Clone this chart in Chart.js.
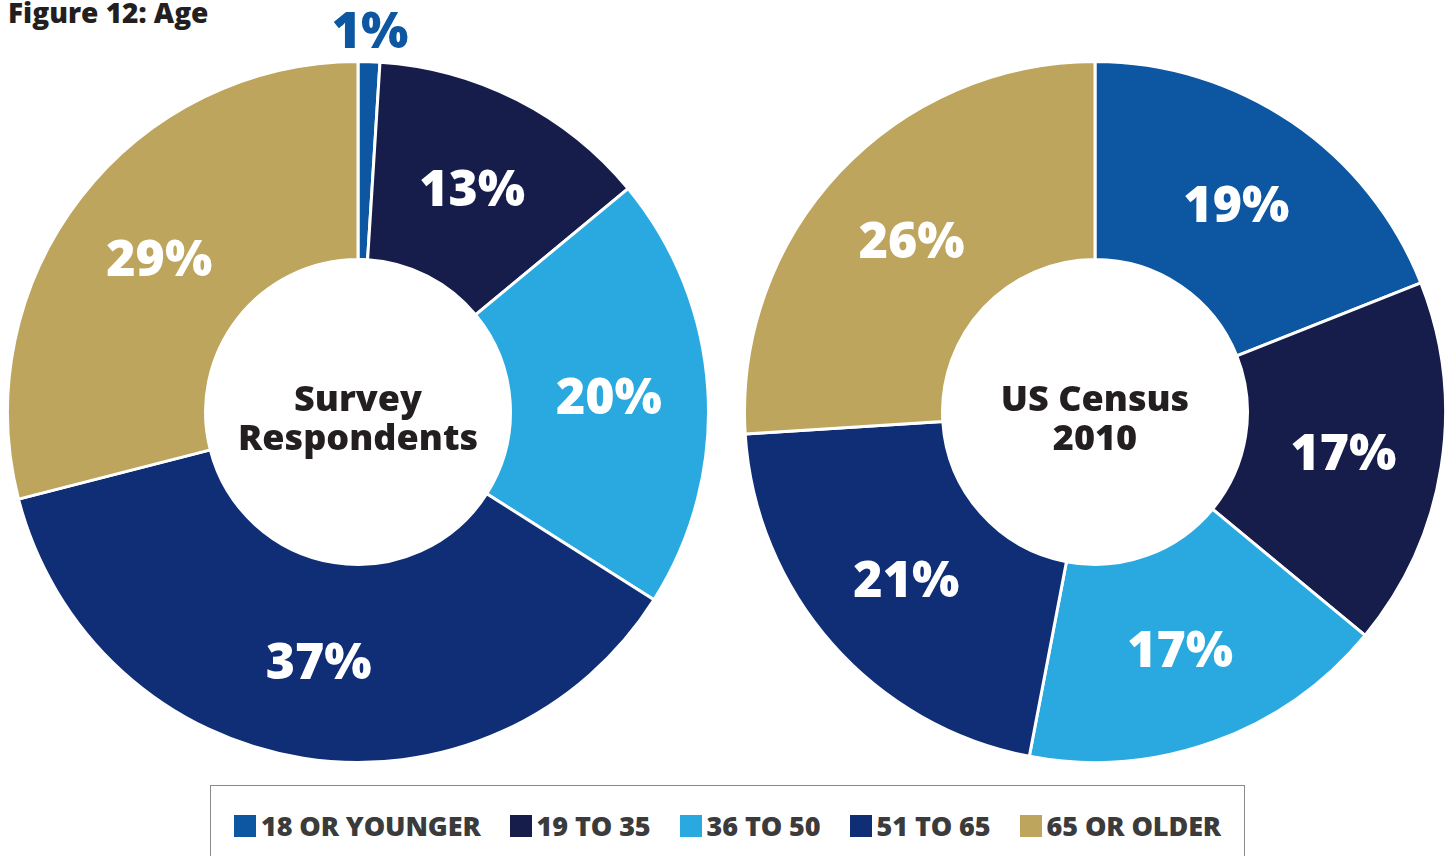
<!DOCTYPE html>
<html>
<head>
<meta charset="utf-8">
<script src="https://cdn.jsdelivr.net/npm/chart.js@4"></script>
<style>
  body { margin: 0; background: #fff; width: 1453px; height: 856px; overflow: hidden; position: relative; font-family: "Open Sans", sans-serif; }
  #title { position: absolute; left: 8px; top: -7px; font-size: 28px; font-weight: 800; color: #231f20; }
  .pie { position: absolute; top: 0; width: 704px; height: 764px; }
  #legend { position: absolute; left: 210px; top: 785px; width: 1035px; height: 80px; border: 1px solid #8a8a8a; box-sizing: border-box;
    display: flex; justify-content: center; align-items: flex-start; padding-top: 21px; gap: 29px; }
  .item { display: flex; align-items: center; font-size: 27px; font-weight: 800; color: #3b3b3b; letter-spacing: -0.1px; }
  .box { width: 22px; height: 22px; margin-right: 5px; }
</style>
</head>
<body>
<div id="title">Figure 12: Age</div>
<div class="pie" style="left:6px"><canvas id="survey"></canvas></div>
<div class="pie" style="left:743px"><canvas id="census"></canvas></div>
<div id="legend"></div>
<script>
// data
const categories = ['18 OR YOUNGER', '19 TO 35', '36 TO 50', '51 TO 65', '65 OR OLDER'];
const surveyValues = [1, 13, 20, 37, 29];
const censusValues = [19, 17, 17, 21, 26];
const colors = ['#0d56a1', '#161d4b', '#29a9e0', '#0f2e76', '#bda55e'];

// percent labels inside the ring, small ones pushed outside
const ringLabels = {
  id: 'ringLabels',
  afterDatasetsDraw(chart) {
    const ctx = chart.ctx;
    const meta = chart.getDatasetMeta(0);
    const values = chart.data.datasets[0].data;
    ctx.save();
    ctx.font = '800 50px "Open Sans"';
    ctx.textAlign = 'center';
    ctx.textBaseline = 'middle';
    meta.data.forEach((arc, i) => {
      const v = values[i];
      let p;
      if (v < 3) {
        const mid = (arc.startAngle + arc.endAngle) / 2;
        const r = arc.outerRadius + 32;
        p = { x: arc.x + Math.cos(mid) * r, y: arc.y + Math.sin(mid) * r };
        ctx.fillStyle = colors[i];
      } else {
        p = arc.getCenterPoint();
        ctx.fillStyle = '#fff';
      }
      ctx.fillText(v + '%', p.x, p.y + 4);
    });
    ctx.restore();
  }
};

// centre caption
const centreText = {
  id: 'centreText',
  afterDraw(chart) {
    const lines = chart.options.plugins.centreText.lines;
    const ctx = chart.ctx;
    const arc = chart.getDatasetMeta(0).data[0];
    ctx.save();
    ctx.font = '800 36px "Open Sans"';
    ctx.fillStyle = '#231f20';
    ctx.textAlign = 'center';
    ctx.textBaseline = 'middle';
    ctx.fillText(lines[0], arc.x, arc.y - 11);
    ctx.fillText(lines[1], arc.x, arc.y + 28);
    ctx.restore();
  }
};

function makeDoughnut(id, values, lines) {
  return new Chart(document.getElementById(id), {
    type: 'doughnut',
    data: {
      labels: categories,
      datasets: [{
        data: values,
        backgroundColor: colors,
        borderColor: '#fff',
        borderWidth: 3,
        hoverOffset: 0
      }]
    },
    options: {
      responsive: true,
      maintainAspectRatio: false,
      animation: false,
      cutout: '43.5%',
      layout: { padding: { top: 60 } },
      plugins: {
        legend: { display: false },
        tooltip: { enabled: false },
        centreText: { lines: lines }
      }
    },
    plugins: [ringLabels, centreText]
  });
}

makeDoughnut('survey', surveyValues, ['Survey', 'Respondents']);
makeDoughnut('census', censusValues, ['US Census', '2010']);

// shared legend
const legend = document.getElementById('legend');
categories.forEach((c, i) => {
  const item = document.createElement('div');
  item.className = 'item';
  item.innerHTML = '<span class="box" style="background:' + colors[i] + '"></span>' + c;
  legend.appendChild(item);
});
</script>
</body>
</html>
